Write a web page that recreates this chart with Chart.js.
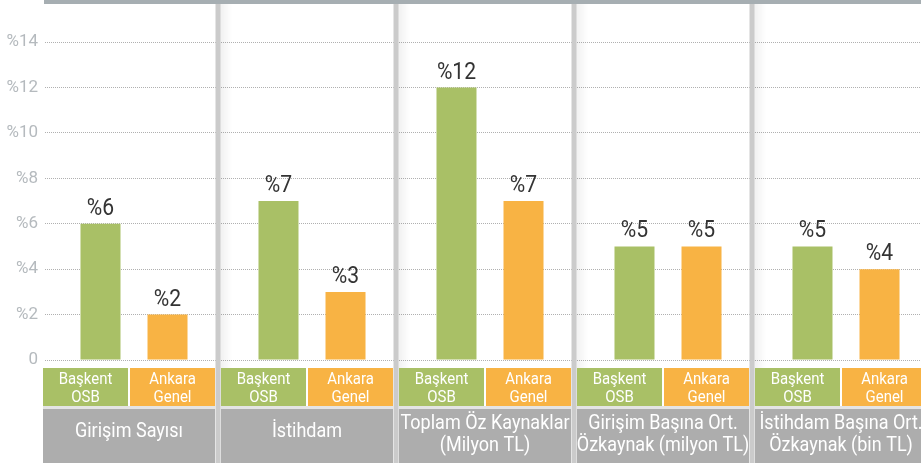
<!DOCTYPE html>
<html lang="tr">
<head>
    <meta charset="UTF-8" />
    <title>Başkent OSB - Ankara Genel</title>
    <script src="https://cdn.jsdelivr.net/npm/chart.js"></script>
    <style>
        html, body { margin: 0; padding: 0; overflow: hidden; background: #fff; }
        #wrap { width: 936px; height: 463px; }
    </style>
</head>
<body>
    <div id="wrap"><canvas id="myChart" width="936" height="463"></canvas></div>

    <script>
        // gruplar (alt gri kutular), her satır bir kutu satırı
        const gruplar = [
            ['Girişim Sayısı'],
            ['İstihdam'],
            ['Toplam Öz Kaynaklar', '(Milyon TL)'],
            ['Girişim Başına Ort.', 'Özkaynak (milyon TL)'],
            ['İstihdam Başına Ort.', 'Özkaynak (bin TL)']
        ];
        const seriAdlari = [['Başkent', 'OSB'], ['Ankara', 'Genel']];
        const baskentOSB = [6, 7, 12, 5, 5];
        const ankaraGenel = [2, 3, 7, 5, 4];
        const yTicks = [0, 2, 4, 6, 8, 10, 12, 14];

        const YESIL = '#a9c066';
        const TURUNCU = '#f8b344';
        const GRI = '#adadad';
        const FONT = "Roboto, 'DejaVu Sans', sans-serif";

        // dar yazı: yatayda sıkıştırılmış metin
        function darYazi(c, metin, x, y, boyut, oran) {
            c.save();
            c.font = boyut + 'px ' + FONT;
            c.translate(x, y);
            c.scale(oran, 1);
            c.fillText(metin, 0, 0);
            c.restore();
        }

        // üst çubuk, ayraçlar, değer etiketleri ve alt kutular
        const suslemeler = {
            id: 'suslemeler',
            beforeDatasetsDraw(chart) {
                const c = chart.ctx;
                const x = chart.scales.x;
                const w = x.width / gruplar.length;
                c.save();
                c.fillStyle = '#a6aeb2';
                c.fillRect(44, 0, chart.width - 44, 4);
                for (let i = 0; i < gruplar.length - 1; i++) {
                    const cx = x.left + (i + 1) * w - 5;
                    const g = c.createLinearGradient(cx + 2, 0, cx + 14, 0);
                    g.addColorStop(0, 'rgba(0,0,0,0.06)');
                    g.addColorStop(1, 'rgba(0,0,0,0)');
                    c.fillStyle = g;
                    c.fillRect(cx + 2, 4, 12, chart.height - 4);
                    c.fillStyle = '#cbcbcb';
                    c.fillRect(cx - 2.5, 4, 5, chart.height - 4);
                }
                c.restore();
            },
            afterDraw(chart) {
                const c = chart.ctx;
                const x = chart.scales.x;
                const w = x.width / gruplar.length;
                c.save();
                c.textAlign = 'center';
                c.textBaseline = 'alphabetic';

                // değer etiketleri
                c.fillStyle = '#333';
                chart.data.datasets.forEach((ds, di) => {
                    chart.getDatasetMeta(di).data.forEach((bar, i) => {
                        darYazi(c, '%' + ds.data[i], bar.x, bar.y - 9, 24, 0.88);
                    });
                });

                // alt kutular
                gruplar.forEach((satirlar, i) => {
                    const s = x.left + i * w;
                    const kutular = [[s - 2, YESIL, seriAdlari[0]], [s + 85, TURUNCU, seriAdlari[1]]];
                    kutular.forEach(([bx, renk, yazi]) => {
                        c.fillStyle = renk;
                        c.fillRect(bx, 368, 85, 38);
                        c.fillStyle = '#fff';
                        darYazi(c, yazi[0], bx + 42.5, 384, 17, 0.88);
                        darYazi(c, yazi[1], bx + 42.5, 402, 17, 0.88);
                    });
                    c.fillStyle = '#e4e4e4';
                    c.fillRect(s - 2, 406, 172, 3);
                    c.fillStyle = GRI;
                    c.fillRect(s - 2, 409, 172, 54);
                    c.fillStyle = '#fff';
                    if (satirlar.length === 1) {
                        darYazi(c, satirlar[0], s + 84, 437, 20, 0.9);
                    } else {
                        darYazi(c, satirlar[0], s + 84, 429, 20, 0.9);
                        darYazi(c, satirlar[1], s + 84, 451, 20, 0.9);
                    }
                });
                c.restore();
            }
        };

        const ctx = document.getElementById('myChart').getContext('2d');

        let chart = new Chart(ctx, {
            type: 'bar',
            data: {
                labels: gruplar.map(g => g.join(' ')),
                datasets: [
                    {
                        label: seriAdlari[0].join(' '),
                        data: baskentOSB,
                        backgroundColor: YESIL,
                        categoryPercentage: 0.753,
                        barPercentage: 0.597
                    },
                    {
                        label: seriAdlari[1].join(' '),
                        data: ankaraGenel,
                        backgroundColor: TURUNCU,
                        categoryPercentage: 0.753,
                        barPercentage: 0.597
                    }
                ]
            },
            options: {
                responsive: false,
                animation: false,
                layout: { padding: { top: 4, bottom: 103, left: 0, right: 1 } },
                plugins: {
                    legend: { display: false },
                    tooltip: { enabled: false }
                },
                scales: {
                    x: {
                        display: false,
                        offset: true,
                        grid: { display: false }
                    },
                    y: {
                        min: 0,
                        max: 15.1,
                        afterFit(scale) { scale.width = 45; },
                        afterBuildTicks(scale) {
                            scale.ticks = yTicks.map(v => ({ value: v }));
                        },
                        border: { display: false, dash: [1, 1] },
                        grid: { color: '#b0b0b0', drawTicks: false, lineWidth: 1 },
                        ticks: {
                            padding: 7,
                            color: '#b5babe',
                            font: { family: FONT, size: 17 },
                            callback: v => v === 0 ? '0' : '%' + v
                        }
                    }
                }
            },
            plugins: [suslemeler]
        });
    </script>
</body>
</html>
